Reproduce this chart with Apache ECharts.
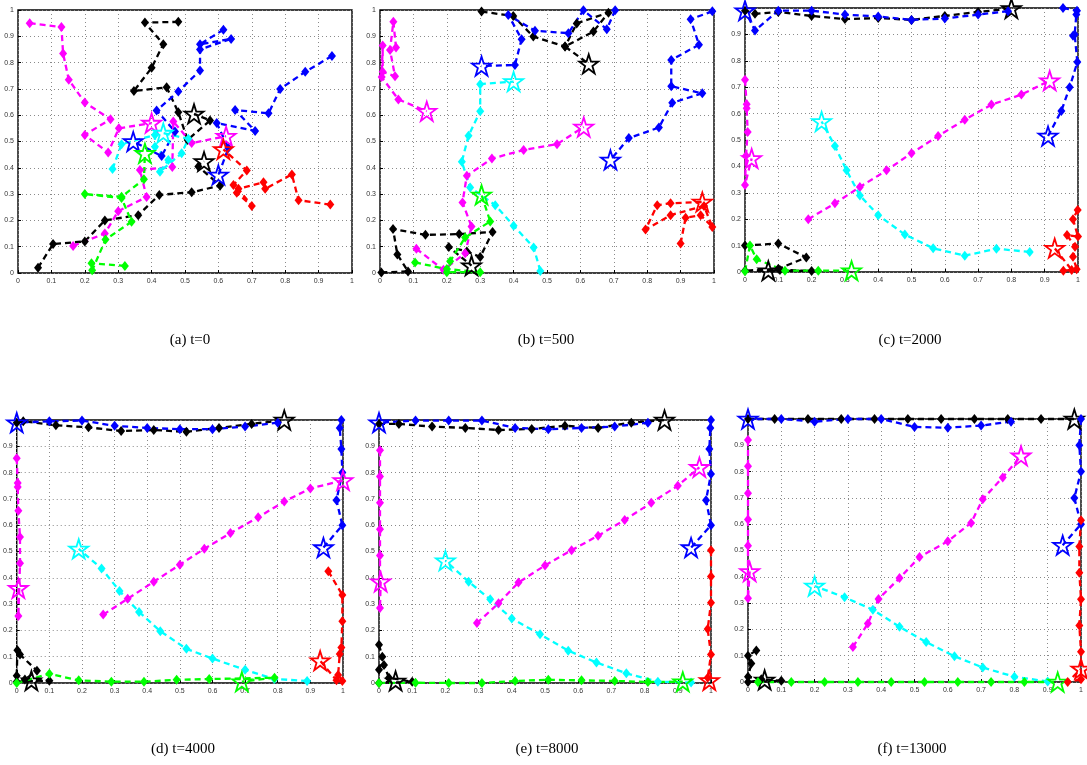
<!DOCTYPE html>
<html>
<head>
<meta charset="utf-8">
<script src="https://cdn.jsdelivr.net/npm/echarts@6/dist/echarts.min.js"></script>
<style>
  html, body { margin: 0; padding: 0; background: #fff; }
  #chart { width: 1087px; height: 765px; }
</style>
</head>
<body>
<div id="chart"></div>
<script>
// Axis ticks shared by every panel
const tickValues = [0, 0.1, 0.2, 0.3, 0.4, 0.5, 0.6, 0.7, 0.8, 0.9, 1];
const captions = ['(a) t=0', '(b) t=500', '(c) t=2000', '(d) t=4000', '(e) t=8000', '(f) t=13000'];
const trackColors = { k: '#000000', b: '#0000ff', m: '#ff00ff', c: '#00ffff', g: '#00ff00', r: '#ff0000' };

// Agent trajectories [x, y]; the last point of each track is the current position (star)
// t = 0
const A_black1 = [[0.06,0.02],[0.105,0.11],[0.2,0.12],[0.26,0.2],[0.36,0.22],[0.423,0.297],[0.52,0.307],[0.605,0.332],[0.54,0.405],[0.557,0.424]];
const A_black2 = [[0.48,0.955],[0.38,0.952],[0.435,0.87],[0.4,0.78],[0.347,0.692],[0.445,0.706],[0.48,0.611],[0.508,0.506],[0.575,0.58],[0.527,0.605]];
const A_blue1 = [[0.94,0.825],[0.86,0.765],[0.785,0.7],[0.75,0.607],[0.65,0.62],[0.71,0.54],[0.595,0.57],[0.63,0.475],[0.6,0.373]];
const A_blue2 = [[0.615,0.925],[0.545,0.87],[0.638,0.89],[0.545,0.85],[0.545,0.77],[0.48,0.69],[0.415,0.618],[0.47,0.538],[0.43,0.445],[0.345,0.5]];
const A_magenta1 = [[0.035,0.95],[0.13,0.935],[0.135,0.835],[0.152,0.735],[0.2,0.648],[0.277,0.585],[0.2,0.525],[0.27,0.458],[0.302,0.55],[0.4,0.57]];
const A_magenta2 = [[0.165,0.103],[0.26,0.15],[0.3,0.235],[0.385,0.289],[0.365,0.392],[0.462,0.403],[0.465,0.576],[0.52,0.494],[0.623,0.52]];
const A_cyan = [[0.283,0.395],[0.31,0.49],[0.41,0.525],[0.41,0.48],[0.45,0.43],[0.425,0.385],[0.49,0.455],[0.51,0.51],[0.435,0.532]];
const A_green = [[0.32,0.027],[0.22,0.037],[0.222,0.01],[0.262,0.127],[0.34,0.195],[0.31,0.285],[0.2,0.3],[0.31,0.29],[0.377,0.356],[0.38,0.455]];
const A_red = [[0.935,0.26],[0.84,0.277],[0.82,0.375],[0.74,0.32],[0.735,0.345],[0.66,0.32],[0.7,0.255],[0.655,0.305],[0.645,0.335],[0.685,0.39],[0.615,0.47]];

// t = 500
const B_black1 = [[0.004,0.002],[0.084,0.006],[0.052,0.07],[0.039,0.167],[0.136,0.145],[0.237,0.148],[0.337,0.156],[0.3,0.061],[0.26,0.082],[0.206,0.099],[0.274,0.028]];
const B_black2 = [[0.304,0.994],[0.399,0.977],[0.459,0.899],[0.554,0.861],[0.589,0.949],[0.684,0.99],[0.639,0.918],[0.554,0.861],[0.625,0.795]];
const B_blue1 = [[0.995,0.995],[0.93,0.965],[0.955,0.868],[0.872,0.81],[0.872,0.71],[0.965,0.683],[0.875,0.647],[0.835,0.553],[0.745,0.513],[0.69,0.43]];
const B_blue2 = [[0.704,0.999],[0.679,0.927],[0.609,0.999],[0.564,0.912],[0.464,0.921],[0.384,0.981],[0.424,0.889],[0.404,0.791],[0.304,0.787]];
const B_magenta1 = [[0.048,0.857],[0.04,0.955],[0.03,0.848],[0.045,0.748],[0.008,0.765],[0.008,0.865],[0.005,0.745],[0.055,0.66],[0.14,0.615]];
const B_magenta2 = [[0.109,0.092],[0.19,0.012],[0.255,0.075],[0.274,0.177],[0.247,0.268],[0.26,0.37],[0.335,0.435],[0.43,0.468],[0.53,0.49],[0.61,0.555]];
const B_cyan = [[0.48,0.008],[0.46,0.097],[0.4,0.18],[0.345,0.258],[0.27,0.325],[0.245,0.423],[0.265,0.522],[0.3,0.615],[0.3,0.718],[0.4,0.728]];
const B_green = [[0.105,0.04],[0.2,0.015],[0.3,0.003],[0.2,0.003],[0.21,0.045],[0.255,0.135],[0.33,0.196],[0.304,0.297]];
const B_red = [[0.9,0.112],[0.915,0.21],[0.96,0.22],[0.995,0.175],[0.97,0.255],[0.87,0.22],[0.795,0.165],[0.83,0.258],[0.87,0.265],[0.965,0.27]];

// t = 2000
const C_black1 = [[0.0,0.1],[0.1,0.108],[0.184,0.055],[0.1,0.012],[0.0,0.005],[0.2,0.004],[0.105,0.008],[0.07,0.005]];
const C_black2 = [[0.0,0.99],[0.03,0.978],[0.1,0.985],[0.2,0.97],[0.3,0.958],[0.4,0.962],[0.5,0.955],[0.6,0.97],[0.7,0.985],[0.8,0.998]];
const C_blue1 = [[0.955,1.0],[0.997,0.99],[0.995,0.975],[0.99,0.9],[0.985,0.895],[0.998,0.795],[0.975,0.7],[0.95,0.61],[0.91,0.515]];
const C_blue2 = [[0.79,0.988],[0.7,0.975],[0.6,0.96],[0.5,0.955],[0.4,0.968],[0.3,0.975],[0.2,0.99],[0.1,0.99],[0.03,0.915],[0.0,0.99]];
const C_magenta1 = [[0.0,0.728],[0.005,0.635],[0.005,0.62],[0.008,0.53],[0.003,0.44],[0.0,0.33],[0.02,0.43]];
const C_magenta2 = [[0.19,0.2],[0.27,0.26],[0.345,0.322],[0.425,0.385],[0.5,0.45],[0.58,0.515],[0.66,0.577],[0.74,0.634],[0.83,0.672],[0.915,0.725]];
const C_cyan = [[0.855,0.076],[0.755,0.088],[0.66,0.062],[0.565,0.09],[0.48,0.142],[0.4,0.215],[0.345,0.29],[0.305,0.385],[0.27,0.477],[0.23,0.57]];
const C_green = [[0.0,0.003],[0.015,0.1],[0.035,0.048],[0.12,0.005],[0.22,0.005],[0.32,0.005]];
const C_red = [[0.999,0.235],[0.985,0.2],[1.0,0.134],[0.967,0.14],[0.991,0.096],[0.985,0.058],[0.996,0.01],[0.956,0.005],[0.981,0.008],[0.93,0.09]];

// t = 4000
const D_black1 = [[0.0,0.028],[0.002,0.125],[0.01,0.108],[0.062,0.047],[0.025,0.013],[0.1,0.009],[0.0,0.005],[0.045,0.009]];
const D_black2 = [[0.0,0.99],[0.02,0.995],[0.12,0.98],[0.22,0.972],[0.32,0.958],[0.42,0.962],[0.52,0.955],[0.62,0.97],[0.72,0.985],[0.82,1.0]];
const D_blue1 = [[0.995,1.0],[0.99,0.97],[0.995,0.89],[0.998,0.8],[0.98,0.695],[0.998,0.6],[0.94,0.515]];
const D_blue2 = [[0.8,0.99],[0.7,0.975],[0.6,0.965],[0.5,0.965],[0.4,0.97],[0.3,0.978],[0.2,0.998],[0.1,0.995],[0.0,0.99]];
const D_magenta1 = [[0.0,0.855],[0.003,0.76],[0.003,0.745],[0.005,0.655],[0.01,0.555],[0.01,0.455],[0.005,0.255],[0.005,0.36]];
const D_magenta2 = [[0.265,0.26],[0.34,0.32],[0.42,0.385],[0.5,0.45],[0.575,0.51],[0.655,0.57],[0.74,0.63],[0.82,0.69],[0.9,0.74],[1.0,0.77]];
const D_cyan = [[0.89,0.008],[0.79,0.015],[0.7,0.05],[0.6,0.093],[0.52,0.13],[0.44,0.197],[0.375,0.27],[0.315,0.35],[0.26,0.435],[0.19,0.51]];
const D_green = [[0.0,0.0],[0.1,0.035],[0.19,0.01],[0.29,0.005],[0.39,0.005],[0.49,0.012],[0.59,0.015],[0.79,0.02],[0.69,0.005]];
const D_red = [[0.955,0.425],[0.998,0.335],[0.998,0.235],[0.995,0.135],[0.99,0.11],[0.985,0.03],[0.998,0.008],[0.98,0.01],[0.93,0.085]];

// t = 8000
const E_black1 = [[0.0,0.145],[0.01,0.1],[0.0,0.05],[0.015,0.068],[0.03,0.02],[0.1,0.005],[0.0,0.0],[0.05,0.008]];
const E_black2 = [[0.0,0.985],[0.06,0.985],[0.16,0.975],[0.26,0.97],[0.36,0.962],[0.46,0.966],[0.56,0.978],[0.66,0.97],[0.76,0.99],[0.86,1.0]];
const E_blue1 = [[1.0,1.0],[0.998,0.97],[0.995,0.89],[1.0,0.795],[0.985,0.695],[1.0,0.6],[0.94,0.515]];
const E_blue2 = [[0.81,0.99],[0.71,0.975],[0.61,0.97],[0.51,0.965],[0.41,0.97],[0.31,0.998],[0.21,0.998],[0.11,0.998],[0.0,0.99]];
const E_magenta1 = [[0.003,0.885],[0.003,0.785],[0.003,0.685],[0.003,0.585],[0.003,0.485],[0.003,0.285],[0.005,0.385]];
const E_magenta2 = [[0.295,0.228],[0.36,0.303],[0.42,0.382],[0.5,0.447],[0.58,0.505],[0.66,0.56],[0.74,0.62],[0.82,0.685],[0.9,0.75],[0.965,0.82]];
const E_cyan = [[0.94,0.002],[0.84,0.005],[0.745,0.037],[0.655,0.078],[0.57,0.123],[0.485,0.185],[0.4,0.245],[0.335,0.318],[0.27,0.385],[0.2,0.465]];
const E_green = [[0.0,0.0],[0.11,0.001],[0.21,0.0],[0.31,0.0],[0.41,0.008],[0.51,0.012],[0.61,0.01],[0.71,0.008],[0.81,0.004],[0.915,0.005]];
const E_red = [[1.0,0.505],[1.0,0.405],[1.0,0.305],[0.99,0.205],[1.0,0.108],[0.99,0.02],[0.995,0.01]];

// t = 13000
const F_black1 = [[0.025,0.12],[0.0,0.1],[0.01,0.07],[0.0,0.02],[0.04,0.01],[0.1,0.005],[0.0,0.0],[0.05,0.008]];
const F_black2 = [[0.0,1.0],[0.08,1.0],[0.18,1.0],[0.28,1.0],[0.38,1.0],[0.48,1.0],[0.58,1.0],[0.68,1.0],[0.78,1.0],[0.88,1.0],[0.98,1.0]];
const F_blue1 = [[1.0,1.0],[0.995,0.9],[1.0,0.8],[0.98,0.7],[1.0,0.6],[0.945,0.52]];
const F_blue2 = [[0.79,0.99],[0.7,0.975],[0.6,0.967],[0.5,0.97],[0.4,1.0],[0.3,1.0],[0.2,0.99],[0.1,1.0],[0.0,1.0]];
const F_magenta1 = [[0.0,0.92],[0.0,0.82],[0.0,0.718],[0.0,0.618],[0.0,0.518],[0.0,0.318],[0.005,0.42]];
const F_magenta2 = [[0.315,0.133],[0.36,0.222],[0.392,0.316],[0.455,0.395],[0.515,0.475],[0.6,0.535],[0.67,0.605],[0.705,0.695],[0.765,0.778],[0.82,0.86]];
const F_cyan = [[0.9,0.002],[0.8,0.02],[0.705,0.055],[0.62,0.098],[0.535,0.152],[0.455,0.21],[0.375,0.275],[0.29,0.322],[0.2,0.365]];
const F_green = [[0.03,0.0],[0.13,0.0],[0.23,0.0],[0.33,0.0],[0.43,0.0],[0.53,0.0],[0.63,0.0],[0.73,0.0],[0.83,0.0],[0.93,0.0]];
const F_red = [[1.0,0.615],[0.995,0.515],[0.995,0.415],[1.0,0.315],[0.995,0.215],[1.0,0.115],[1.0,0.01],[0.96,0.0],[1.0,0.05]];

const panelTracks = [
  [[A_black1,'k'],[A_black2,'k'],[A_blue1,'b'],[A_blue2,'b'],[A_magenta1,'m'],[A_magenta2,'m'],[A_cyan,'c'],[A_green,'g'],[A_red,'r']],
  [[B_black1,'k'],[B_black2,'k'],[B_blue1,'b'],[B_blue2,'b'],[B_magenta1,'m'],[B_magenta2,'m'],[B_cyan,'c'],[B_green,'g'],[B_red,'r']],
  [[C_black1,'k'],[C_black2,'k'],[C_blue1,'b'],[C_blue2,'b'],[C_magenta1,'m'],[C_magenta2,'m'],[C_cyan,'c'],[C_green,'g'],[C_red,'r']],
  [[D_black1,'k'],[D_black2,'k'],[D_blue1,'b'],[D_blue2,'b'],[D_magenta1,'m'],[D_magenta2,'m'],[D_cyan,'c'],[D_green,'g'],[D_red,'r']],
  [[E_black1,'k'],[E_black2,'k'],[E_blue1,'b'],[E_blue2,'b'],[E_magenta1,'m'],[E_magenta2,'m'],[E_cyan,'c'],[E_green,'g'],[E_red,'r']],
  [[F_black1,'k'],[F_black2,'k'],[F_blue1,'b'],[F_blue2,'b'],[F_magenta1,'m'],[F_magenta2,'m'],[F_cyan,'c'],[F_green,'g'],[F_red,'r']]
];

// Layout of the six panels (pixels)
const panelBoxes = [
  { left: 18,  top: 10,  width: 334, height: 263, showTop: true,  capX: 185, capY: 328 },
  { left: 380, top: 10,  width: 334, height: 263, showTop: true,  capX: 541, capY: 328 },
  { left: 745, top: 8,   width: 333, height: 264, showTop: false, capX: 905, capY: 328 },
  { left: 10,  top: 420, width: 333, height: 263, showTop: false, capX: 178, capY: 737 },
  { left: 379, top: 420, width: 332, height: 263, showTop: false, capX: 542, capY: 737 },
  { left: 748, top: 419, width: 333, height: 263, showTop: false, capX: 907, capY: 737 }
];

const STAR = 'path://M50,2 L61,36 L97,36 L68,57 L79,92 L50,71 L21,92 L32,57 L3,36 L39,36 Z';

const grids = [], xAxes = [], yAxes = [], series = [], titles = [];

panelBoxes.forEach((box, i) => {
  grids.push({ left: box.left, top: box.top, width: box.width, height: box.height,
    show: true, borderColor: '#000', borderWidth: 1.4, backgroundColor: '#fff' });
  const axisCommon = {
    gridIndex: i, type: 'value', min: 0, max: 1, interval: 0.1,
    axisLine: { show: false },
    axisTick: { show: true, inside: true, length: 3, lineStyle: { color: '#000' } },
    splitLine: { show: true, lineStyle: { color: '#8a8a8a', type: [1, 3], width: 1 } },
    axisLabel: { fontSize: 7, color: '#333', fontFamily: 'Liberation Sans, Arial, sans-serif', margin: 4 }
  };
  xAxes.push(Object.assign({}, axisCommon, { position: 'bottom',
    axisLabel: Object.assign({}, axisCommon.axisLabel, { margin: 5,
      formatter: v => tickValues.indexOf(Math.round(v * 10) / 10) >= 0 ? String(Math.round(v * 10) / 10) : '' }) }));
  yAxes.push(Object.assign({}, axisCommon, { position: 'left',
    axisLabel: Object.assign({}, axisCommon.axisLabel, {
      formatter: v => (v >= 0.999 && !box.showTop) ? '' : String(Math.round(v * 10) / 10) }) }));
  titles.push({ text: captions[i], left: box.capX, top: box.capY, textAlign: 'center',
    textStyle: { fontFamily: 'Liberation Serif, Times New Roman, serif', fontSize: 15, fontWeight: 'normal', color: '#000' } });

  panelTracks[i].forEach(([pts, key]) => {
    const col = trackColors[key];
    const data = pts.map((p, j) => {
      if (j === pts.length - 1) {
        return { value: p, symbol: STAR, symbolSize: 19,
          itemStyle: { color: 'rgba(0,0,0,0)', borderColor: col, borderWidth: 1.8 } };
      }
      return { value: p };
    });
    series.push({
      type: 'line', xAxisIndex: i, yAxisIndex: i, data: data, clip: false,
      symbol: 'diamond', symbolSize: [8, 10], showAllSymbol: true,
      itemStyle: { color: col, borderColor: col, borderWidth: 0 },
      lineStyle: { color: col, width: 2.3, type: [6, 4] },
      animation: false, silent: true
    });
  });
});

const chart = echarts.init(document.getElementById('chart'), null, { renderer: 'canvas' });
chart.setOption({
  animation: false,
  backgroundColor: '#fff',
  title: titles,
  grid: grids,
  xAxis: xAxes,
  yAxis: yAxes,
  series: series
});
</script>
</body>
</html>
